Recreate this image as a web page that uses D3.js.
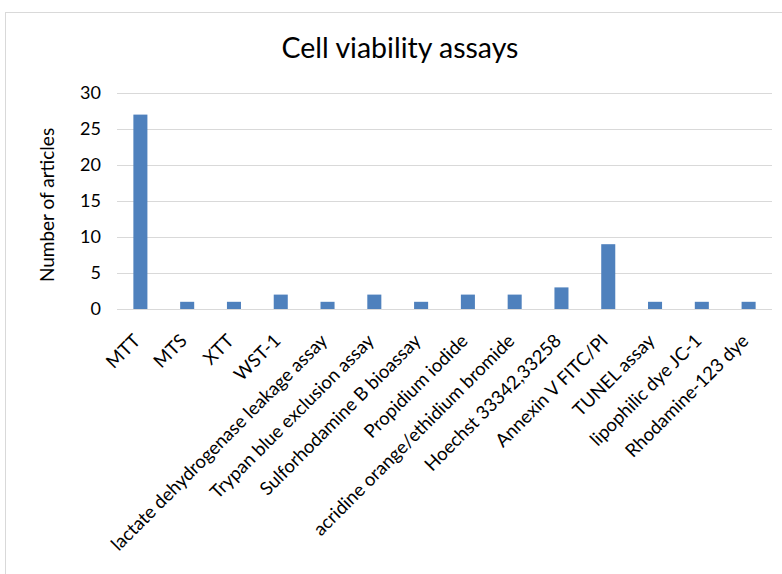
<!DOCTYPE html>
<html><head><meta charset="utf-8">
<script src="https://cdn.jsdelivr.net/npm/d3@7"></script>
<style>body{margin:0;background:#fff;} svg{display:block;}</style>
</head><body>
<script>
const categories = ["MTT","MTS","XTT","WST-1","lactate dehydrogenase leakage assay","Trypan blue exclusion assay","Sulforhodamine B bioassay","Propidium iodide","acridine orange/ethidium bromide","Hoechst 33342,33258","Annexin V FITC/PI","TUNEL assay","lipophilic dye JC-1","Rhodamine-123 dye"];
const values = [27,1,1,2,1,2,1,2,2,3,9,1,1,1];
const yTicks = [0,5,10,15,20,25,30];
const title = "Cell viability assays";
const yTitle = "Number of articles";

(function () {
const W = 782, H = 574;
const font = "Lato, 'Open Sans', sans-serif";
const svg = d3.select("body").append("svg").attr("width", W).attr("height", H);
svg.append("rect").attr("x", 5.5).attr("y", 12.5).attr("width", 800).attr("height", 600)
  .attr("fill", "#fff").attr("stroke", "#d9d9d9");

const pL = 117, pR = 772, pT = 93, pB = 309;
const x = d3.scaleBand().domain(categories).range([pL, pR]).paddingInner(0.7).paddingOuter(0.35);
const y = d3.scaleLinear().domain([0, 30]).range([pB, pT]);

svg.append("text").attr("x", 400).attr("y", 58).attr("text-anchor", "middle")
  .attr("font-family", font).attr("font-size", 28.5).attr("fill", "#000").text(title);

const ya = svg.append("g").attr("transform", `translate(${pL},0)`)
  .call(d3.axisLeft(y).tickValues(yTicks).tickSize(-(pR - pL)).tickPadding(16));
ya.select(".domain").remove();
ya.selectAll(".tick line").attr("stroke", "#d9d9d9");
ya.selectAll(".tick text").attr("font-family", font).attr("font-size", 18).attr("fill", "#000");

svg.append("g").selectAll("rect").data(values).join("rect")
  .attr("x", (d, i) => x(categories[i])).attr("width", x.bandwidth())
  .attr("y", d => y(d)).attr("height", d => y(0) - y(d)).attr("fill", "#4F81BD");

svg.append("line").attr("x1", pL).attr("x2", pR).attr("y1", y(0) + 0.5).attr("y2", y(0) + 0.5)
  .attr("stroke", "#d9d9d9");

const xa = svg.append("g").attr("transform", `translate(0,${pB})`)
  .call(d3.axisBottom(x).tickSize(0).tickPadding(0));
xa.select(".domain").remove();
xa.selectAll(".tick text").attr("font-family", font).attr("font-size", 18.5).attr("fill", "#000")
  .attr("text-anchor", "end").attr("dy", 0)
  .attr("transform", "translate(1,33) rotate(-45)");

svg.append("text").attr("transform", `translate(54,205) rotate(-90)`)
  .attr("text-anchor", "middle").attr("font-family", font).attr("font-size", 19).attr("fill", "#000")
  .text(yTitle);
})();
</script>
</body></html>
